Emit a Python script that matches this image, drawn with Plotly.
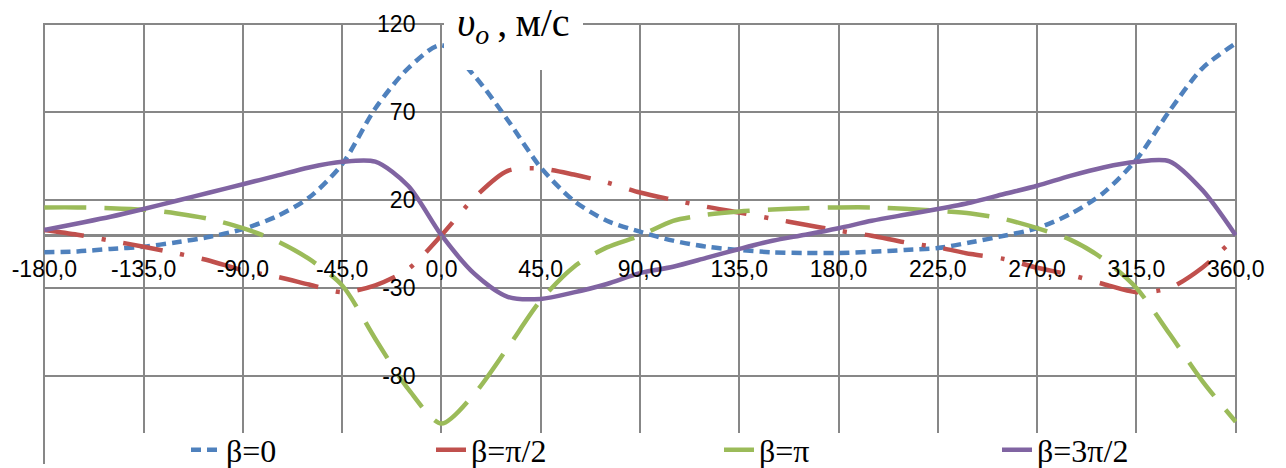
import plotly.graph_objects as go

# Angle (degrees)
angles = [-180, -165, -150, -135, -120, -105, -90, -75, -60, -45, -30, -15, 0,
          15, 30, 45, 60, 75, 90, 105, 120, 135, 150, 165, 180, 195, 210, 225,
          240, 255, 270, 285, 300, 315, 330, 345, 360]

# Series values (m/s)
beta_0 = [-9.7, -9.2, -7.8, -6.5, -4.0, -0.9, 3.5, 10.5, 21.4, 40.4, 72.0, 95.0, 108.0,
          90.5, 65.5, 38.5, 19.6, 8.2, 2.0, -3.1, -6.5, -8.4, -9.7, -10.1, -10.1, -9.4, -8.4, -7.3,
          -4.0, -0.3, 4.0, 12.0, 24.0, 43.0, 70.6, 95.0, 109.0]
beta_pi2 = [3.0, 0.3, -3.1, -6.5, -10.3, -14.5, -20.0, -23.5, -28.0, -32.4, -28.5, -19.2, 0.0,
            21.4, 36.6, 37.9, 34.5, 30.0, 24.3, 20.1, 16.2, 12.9, 9.4, 6.0, 2.6, -0.3, -4.0, -6.9,
            -10.7, -13.5, -18.5, -22.5, -27.7, -32.4, -30.0, -18.3, -1.0]
beta_pi = [15.8, 15.8, 15.4, 14.5, 12.4, 9.2, 4.0, -3.1, -13.5, -28.5, -58.8, -87.5, -107.0,
           -90.0, -64.0, -37.0, -18.0, -6.9, -0.3, 8.2, 11.6, 13.5, 14.6, 15.4, 15.8, 15.8, 15.0, 13.9,
           12.4, 9.2, 4.0, -2.5, -13.5, -30.0, -56.0, -83.0, -106.0]
beta_3pi2 = [3.0, 6.7, 10.5, 14.9, 19.6, 24.3, 29.0, 33.7, 38.5, 41.7, 41.8, 28.0, 0.0,
             -22.0, -35.0, -36.2, -32.5, -27.7, -21.5, -17.9, -12.9, -7.8, -3.1, 0.3, 4.0, 8.2, 11.6, 14.9,
             18.6, 23.4, 28.1, 33.7, 38.5, 41.7, 42.0, 25.5, 0.0]

series_names = ["β=0", "β=π/2", "β=π", "β=3π/2"]

x_tickvals = [-180, -135, -90, -45, 0, 45, 90, 135, 180, 225, 270, 315, 360]
x_ticktext = ["-180,0", "-135,0", "-90,0", "-45,0", "0,0", "45,0", "90,0", "135,0",
              "180,0", "225,0", "270,0", "315,0", "360,0"]
y_tickvals = [-80, -30, 20, 70, 120]
y_ticktext = ["-80", "-30", "20", "70", "120"]

W, H = 1286, 468
ML, MR, MT, MB = 43, 49, 23, 4
PW, PH = W - ML - MR, H - MT - MB

def px_x(p):
    return (p - ML) / PW

def px_y(p):
    return 1 - (p - MT) / PH

GRID = "#878787"
SERIF = "Liberation Serif, Times New Roman, DejaVu Serif, serif"
SANS = "Liberation Sans, Arial, sans-serif"

fig = go.Figure()
styles = [
    dict(color="#4F81BD", width=4.5, dash="10px,6px"),
    dict(color="#C0504D", width=4.5, dash="40px,18px,4px,18px"),
    dict(color="#9BBB59", width=4.5, dash="42px,18px"),
    dict(color="#8064A2", width=4.5, dash="solid"),
]
legend_ids = ["legend", "legend2", "legend3", "legend4"]
for ys, name, st, lg in zip([beta_0, beta_pi2, beta_pi, beta_3pi2], series_names, styles, legend_ids):
    fig.add_trace(go.Scatter(x=angles, y=ys, mode="lines", name=name,
                             line=dict(color=st["color"], width=st["width"], dash=st["dash"],
                                       shape="spline", smoothing=0.8),
                             legend=lg, hoverinfo="skip"))

legend_text_px = [227, 472, 760, 1038]
leg_common = dict(orientation="h", font=dict(family=SERIF, size=32, color="black"),
                  bgcolor="rgba(0,0,0,0)", xanchor="left", yanchor="middle",
                  itemwidth=30, tracegroupgap=0)
layout_legends = {}
for lg, tx in zip(legend_ids, legend_text_px):
    layout_legends[lg] = dict(x=px_x(tx - 41), y=px_y(450), **leg_common)

fig.update_layout(
    width=W, height=H,
    margin=dict(l=ML, r=MR, t=MT, b=MB, autoexpand=False),
    paper_bgcolor="white", plot_bgcolor="white",
    showlegend=True,
    **layout_legends,
    xaxis=dict(range=[-180.6, 360.6], tickvals=x_tickvals, ticktext=x_ticktext,
               showgrid=True, gridcolor=GRID, gridwidth=2, zeroline=False,
               showline=False, anchor="free", position=130 / 250,
               ticks="outside", ticklen=8, tickwidth=2, tickcolor=GRID,
               ticklabelstandoff=6,
               tickfont=dict(family=SANS, size=23, color="black")),
    yaxis=dict(range=[-130, 120.6], tickvals=y_tickvals, ticktext=y_ticktext,
               showgrid=True, gridcolor=GRID, gridwidth=2,
               zeroline=True, zerolinecolor=GRID, zerolinewidth=3,
               showline=False, anchor="free", position=180.6 / 541.2,
               ticks="", ticklabelstandoff=26,
               tickfont=dict(family=SANS, size=23, color="black")),
    shapes=[
        dict(type="rect", xref="paper", yref="paper", layer="above",
             x0=px_x(62), x1=px_x(W + 5), y0=px_y(433), y1=px_y(H + 5),
             fillcolor="white", line=dict(width=0)),
        dict(type="rect", xref="paper", yref="paper", layer="above",
             x0=px_x(444), x1=px_x(583), y0=px_y(70), y1=px_y(-5),
             fillcolor="white", line=dict(width=0)),
    ],
    annotations=[dict(xref="paper", yref="paper", x=px_x(455), y=px_y(25),
                      xanchor="left", yanchor="middle", showarrow=False,
                      text="<i>υ</i><sub><i>o</i></sub>&#8201;,&#8201;м/с",
                      font=dict(family=SERIF, size=40, color="black"))],
)

fig.write_html("out.html", config={"displayModeBar": False},
               post_script="document.body.style.margin='0';")
